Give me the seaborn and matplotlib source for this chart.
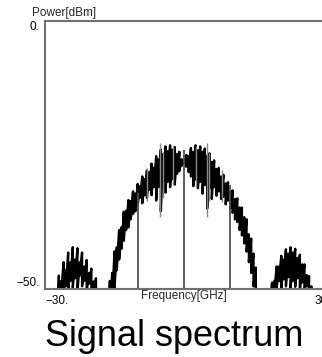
import numpy as np
import pandas as pd
import matplotlib
matplotlib.use("Agg")
import matplotlib.pyplot as plt
import seaborn as sns

# ---------------- data ----------------
freq_ghz = np.arange(-28.0, 28.01, 0.5)

# upper envelope of the noisy trace (dBm)
upper_dbm = [
    -60, -55, -47.5, -48.5, -45.0, -46.5, -43.2, -45.0, -42.2, -44.5, -42.4,
    -45.0, -43.2, -45.8, -44.6, -47.0, -46.2, -48.6, -48.0, -50.5, -60,
    -60, -60, -60,
    -48.5, -47.0, -43.0, -42.2, -39.0, -38.5, -35.6, -35.4, -33.4, -33.6, -31.8,
    -32.2, -30.4, -30.8, -29.0, -29.5, -27.9, -28.2, -26.6, -27.4, -25.2, -25.8,
    -24.0, -24.8, -23.4, -24.3, -23.2, -24.0, -23.5, -24.8, -24.4, -25.8, -25.8,
    -25.0, -25.2, -23.7, -24.4, -23.2, -24.1, -23.4, -24.4, -23.8, -25.2, -24.7,
    -26.3, -26.0, -27.6, -27.4, -29.0, -28.7, -30.3, -30.1, -31.8, -31.6, -33.2,
    -33.1, -34.8, -34.8, -36.6, -37.0, -39.8, -40.6, -43.4, -46.0, -55,
    -60, -60, -60, -60,
    -50.5, -48.8, -48.5, -45.8, -45.8, -43.8, -44.5, -42.6, -43.4, -42.2, -43.2,
    -42.5, -44.2, -43.6, -45.4, -45.4, -47.4, -47.6, -49.5, -60,
]
# lower envelope of the noisy trace (dBm)
lower_dbm = [
    -60, -60, -52, -51, -50.5, -49.5, -50.5, -48.5, -49.8, -48.0, -50.5,
    -47.5, -49.5, -48.5, -50.5, -49.0, -51, -50.5, -52, -55, -60,
    -60, -60, -60,
    -55, -52, -50, -46.5, -44.5, -42.5, -41.0, -39.0, -38.5, -37.0, -36.0,
    -35.5, -34.5, -33.0, -34.0, -32.5, -33.0, -31.5, -32.5, -31.0, -33.5, -31.0,
    -35.5, -30.5, -32.0, -30.0, -31.0, -29.5, -30.5, -28.5, -28.0, -27.0, -26.5,
    -27.2, -28.2, -29.0, -30.8, -29.6, -31.2, -30.0, -32.2, -30.6, -35.0, -31.2,
    -33.2, -31.0, -32.6, -31.8, -33.2, -32.8, -34.2, -33.5, -35.0, -35.8, -37.0,
    -37.5, -39.0, -40.0, -41.5, -43.0, -45.0, -47.0, -49.5, -53, -60,
    -60, -60, -60, -60,
    -55, -52, -50.5, -49.8, -48.5, -50.2, -48.2, -49.5, -47.8, -50.0, -48.5,
    -49.6, -48.0, -50.5, -48.8, -50.4, -49.5, -51, -55, -60,
]

# marker lines (stems) from the floor up to the trace
stem_freq = [-10.0, 0.0, 10.0]
stem_top = [-32.0, -24.0, -30.6]

# lighter grey spikes inside the main lobe
spike_freq = [-5.2, -4.6, -2.3, -7.9, 4.9, 5.4, 2.5, 8.2]
spike_top = [-22.8, -24.5, -23.3, -27.5, -22.8, -24.6, -23.3, -27.8]
spike_bottom = [-36.6, -33.0, -30.5, -33.5, -36.6, -33.5, -31.0, -33.8]

x_ticks = [-30, 30]
x_ticklabels = ["\u221230.", "30."]
y_ticks = [-50, 0]
y_ticklabels = ["\u221250.", "0."]

# ---------------- build zig-zag trace from the envelopes ----------------
zig_x = np.repeat(freq_ghz, 2)
zig_y = np.column_stack((upper_dbm, lower_dbm)).ravel()
df = pd.DataFrame({"f": zig_x, "p": zig_y})

sns.set_style("white")
plt.rcParams["font.family"] = ["Liberation Sans", "DejaVu Sans"]

fig = plt.figure(figsize=(3.22, 3.57), dpi=100)
ax = fig.add_axes([45 / 322, 68 / 357, 278 / 322, 268 / 357])

sns.lineplot(data=df, x="f", y="p", sort=False, estimator=None,
             color="black", linewidth=1.7, ax=ax)
ax.vlines(spike_freq, spike_bottom, spike_top, color="#8a8a8a", linewidth=1.0)
ax.vlines(stem_freq, -50, stem_top, color="#505050", linewidth=1.3)

ax.set_xlim(-30, 30)
ax.set_ylim(-50, 0)

ax.set_xticks(x_ticks)
ax.set_xticklabels(x_ticklabels, fontsize=8.5)
ax.set_yticks(y_ticks)
ax.set_yticklabels(y_ticklabels, fontsize=8.5)
ax.tick_params(length=0, pad=4, colors="black")
xl = ax.get_xticklabels()
xl[0].set_ha("left")
xl[1].set_ha("center")
yl = ax.get_yticklabels()
yl[0].set_va("bottom")
yl[1].set_va("top")

ax.set_xlabel("Frequency[GHz]", fontsize=8.5)
ax.xaxis.label.set_va("center")
ax.xaxis.set_label_coords(0.5, -0.027)
ax.set_ylabel("Power[dBm]", fontsize=8.5, rotation=0, ha="left", va="center")
ax.yaxis.set_label_coords(-0.047, 1.03)

for side in ["left", "top", "bottom"]:
    ax.spines[side].set_color("#707070")
    ax.spines[side].set_linewidth(1.5)
ax.spines["right"].set_visible(False)

fig.text(174 / 322, 11 / 357, "Signal spectrum", fontsize=26,
         ha="center", va="baseline", color="black")

fig.savefig("out.png", dpi=100)
